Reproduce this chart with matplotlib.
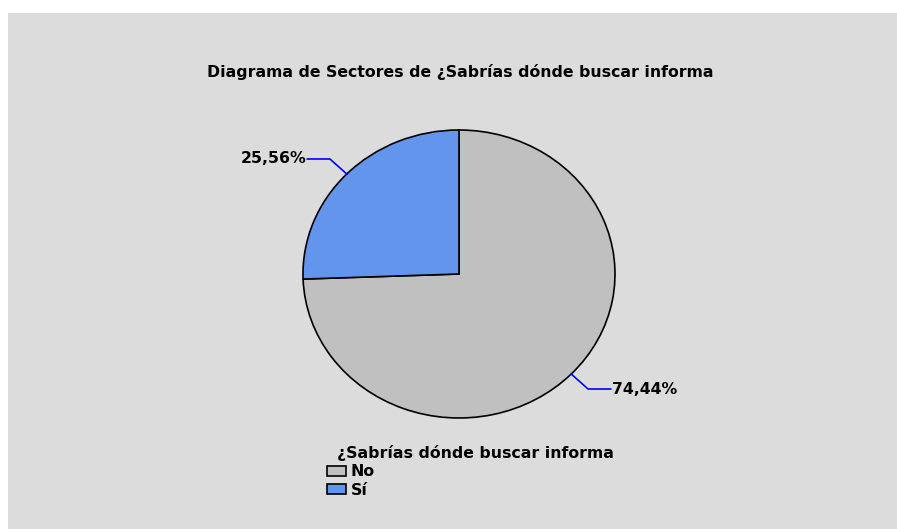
import numpy as np
import matplotlib
matplotlib.use("Agg")
import matplotlib.pyplot as plt
from matplotlib.patches import Rectangle

plt.rcParams['font.family'] = ['DejaVu Sans']

categories = ['No', 'Sí']
percent = [74.44, 25.56]
pct_labels = ['74,44%', '25,56%']
colors = ['#c0c0c0', '#6495ed']

W, H = 897, 529
fig = plt.figure(figsize=(W / 100, H / 100), dpi=100)
fig.patch.set_facecolor('white')

# gray panel behind everything
fig.patches.append(Rectangle((8 / W, 0), 1 - 8 / W, 1 - 13 / H,
                             transform=fig.transFigure, facecolor='#dcdcdc',
                             edgecolor='none', zorder=-10))

fig.text(460 / W, 1 - 72 / H,
         'Diagrama de Sectores de ¿Sabrías dónde buscar informa',
         ha='center', va='center', fontsize=11.3, fontweight='bold')

# elliptical pie: axes 312 x 288 px
cx, cy, rx, ry = 459, 274, 156, 144
ax = fig.add_axes([(cx - rx) / W, (H - cy - ry) / H, 2 * rx / W, 2 * ry / H])
wedges, _ = ax.pie(percent, colors=colors, startangle=90, counterclock=False,
                   wedgeprops=dict(edgecolor='black', linewidth=1.2))
ax.set_aspect('auto')
ax.set_xlim(-1, 1)
ax.set_ylim(-1, 1)
ax.axis('off')

# leader lines + percent labels
for w, lab in zip(wedges, pct_labels):
    ang = np.deg2rad((w.theta1 + w.theta2) / 2)
    x0, y0 = np.cos(ang), np.sin(ang)
    x1, y1 = 1.15 * x0, 1.15 * y0
    side = np.sign(x0)
    x2 = x1 + side * 0.145
    ax.plot([x0, x1, x2], [y0, y1, y1], color='blue', lw=1.2, clip_on=False)
    ax.text(x2 + side * 0.008, y1, lab, ha='left' if side > 0 else 'right',
            va='center', fontsize=11.3, fontweight='bold', clip_on=False)

leg = fig.legend(wedges, categories, loc='upper left',
                 bbox_to_anchor=(327 / W, 1 - 445 / H), frameon=False,
                 title='¿Sabrías dónde buscar informa', alignment='left',
                 prop=dict(weight='bold', size=11.3),
                 title_fontproperties=dict(weight='bold', size=11.3),
                 handlelength=1.2, handleheight=0.6, handletextpad=0.3,
                 labelspacing=0.22, borderpad=0, borderaxespad=0)
leg.get_title().set_x(10)

fig.savefig('out.png', dpi=100, facecolor=fig.get_facecolor())
